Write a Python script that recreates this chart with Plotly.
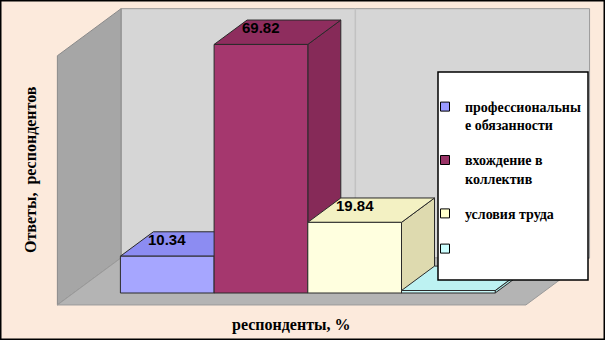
import plotly.graph_objects as go

# ---------------- data ----------------
categories = ["профессиональные обязанности", "вхождение в коллектив", "условия труда", ""]
legend_labels = ["профессиональны<br>е обязанности", "вхождение в<br>коллектив", "условия труда", ""]
values = [10.34, 69.82, 19.84, 0.0]
value_labels = ["10.34", "69.82", "19.84", ""]
y_title = "Ответы,  респондентов"
x_title = "респонденты, %"

# ---------------- styles ----------------
swatch_colors = ["#9999FF", "#993366", "#FFFFCC", "#CCFFFF"]
front_colors = ["#A6A6FF", "#A5376E", "#FFFFDF", "#C6F6F6"]
top_colors = ["#8C8CF2", "#8E2D5E", "#F3F1C3", "#BDF2F2"]
side_colors = ["#7F7FE0", "#862A58", "#DEDAAF", "#A8E0E0"]
BG = "#FCEADC"
W, H = 605, 340

# pixel scale of the axes (plot area = whole figure)
PX_X, PX_Y = 93.7, 3.56          # pixels per category unit / per value unit
X0_PX, Y0_PX = 120.4, 293.0      # pixel position of x=0 / y=0
KX, KY = 33.0 / PX_X, 24.4 / PX_Y  # oblique depth projection per unit depth
BX0, BX1, BZ0, BZ1, WALL_H = -0.5, 4.5, -0.49, 1.44, 70.0
MIN_H = 0.7                       # minimum rendered slab for zero values

xr = [(0 - X0_PX) / PX_X, (W - X0_PX) / PX_X]
yr = [(Y0_PX - H) / PX_Y, Y0_PX / PX_Y]


def P(x, y, z):
    return x + z * KX, y + z * KY


def poly(pts, fill, line="#808080", lw=1):
    xs = [p[0] for p in pts] + [pts[0][0]]
    ys = [p[1] for p in pts] + [pts[0][1]]
    return go.Scatter(x=xs, y=ys, mode="lines", fill="toself", fillcolor=fill,
                      line=dict(color=line, width=lw), hoverinfo="skip",
                      showlegend=False)


fig = go.Figure()

# walls and floor
fig.add_trace(poly([P(BX0, 0, BZ1), P(BX1, 0, BZ1), P(BX1, WALL_H, BZ1), P(BX0, WALL_H, BZ1)],
                   "#D6D6D6", "#9A9A9A"))
fig.add_trace(go.Scatter(x=[P(2, 0, BZ1)[0], P(2, WALL_H, BZ1)[0]],
                         y=[P(2, 0, BZ1)[1], P(2, WALL_H, BZ1)[1]], mode="lines",
                         line=dict(color="#C2C2C2", width=1.5), hoverinfo="skip", showlegend=False))
fig.add_trace(poly([P(BX0, 0, BZ0), P(BX0, 0, BZ1), P(BX0, WALL_H, BZ1), P(BX0, WALL_H, BZ0)],
                   "#A6A6A6", "#8A8A8A"))
fig.add_trace(poly([P(BX0, 0, BZ0), P(BX1, 0, BZ0), P(BX1, 0, BZ1), P(BX0, 0, BZ1)],
                   "#B4B4B4", "#9A9A9A"))

# 3D bars, drawn left to right
for i, v in enumerate(values):
    x0, x1 = i, i + 1
    h = max(v, MIN_H)
    fig.add_trace(poly([P(x1, 0, 0), P(x1, 0, 1), P(x1, h, 1), P(x1, h, 0)], side_colors[i], "#2A2A2A", 1))
    fig.add_trace(poly([P(x0, h, 0), P(x1, h, 0), P(x1, h, 1), P(x0, h, 1)], top_colors[i], "#2A2A2A", 1))
    fig.add_trace(poly([P(x0, 0, 0), P(x1, 0, 0), P(x1, h, 0), P(x0, h, 0)], front_colors[i], "#2A2A2A", 1))
    if value_labels[i]:
        fig.add_annotation(x=i + 0.5, y=v, text="<b>%s</b>" % value_labels[i], showarrow=False,
                           yshift=17, yanchor="middle", xanchor="center",
                           font=dict(family="Liberation Sans", size=15, color="#000000"))

# legend entries
for i, lab in enumerate(legend_labels):
    fig.add_trace(go.Scatter(x=[None], y=[None], mode="markers", name=lab,
                             legendgroup="g%d" % i,
                             marker=dict(symbol="square", size=9, color=swatch_colors[i],
                                         line=dict(color="#000000", width=1))))

# axis titles
fig.add_annotation(x=31 / W, y=1 - 170 / H, xref="paper", yref="paper", text="<b>%s</b>" % y_title,
                   textangle=-90, showarrow=False, xanchor="center", yanchor="middle",
                   font=dict(family="Liberation Serif", size=16, color="#000000"))
fig.add_annotation(x=291 / W, y=1 - 325 / H, xref="paper", yref="paper", text="<b>%s</b>" % x_title,
                   showarrow=False, xanchor="center", yanchor="middle",
                   font=dict(family="Liberation Serif", size=16, color="#000000"))

shapes = [
    dict(type="rect", xref="paper", yref="paper", x0=438 / W, x1=588 / W,
         y0=1 - 280 / H, y1=1 - 72 / H, fillcolor="#FFFFFF",
         line=dict(color="#000000", width=1.5), layer="above"),
    dict(type="rect", xref="paper", yref="paper", x0=0, x1=1, y0=0, y1=1,
         line=dict(color="#000000", width=3), layer="above"),
]

fig.update_layout(
    width=W, height=H,
    margin=dict(l=0, r=0, t=0, b=0),
    paper_bgcolor=BG, plot_bgcolor=BG,
    xaxis=dict(range=xr, visible=False, fixedrange=True),
    yaxis=dict(range=yr, visible=False, fixedrange=True),
    shapes=shapes,
    showlegend=True,
    legend=dict(x=425 / W, y=1 - 91 / H, xanchor="left", yanchor="top",
                bgcolor="rgba(0,0,0,0)", borderwidth=0, valign="top",
                tracegroupgap=14, itemwidth=30,
                font=dict(family="Liberation Serif", size=14, color="#000000", weight="bold")),
)

fig.write_html("out.html")
